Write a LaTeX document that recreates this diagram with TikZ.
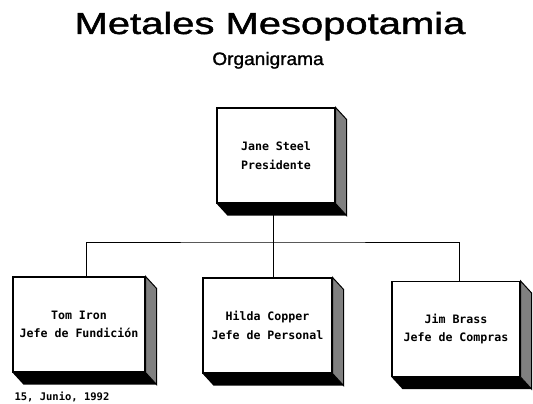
\documentclass[tikz,border=0pt]{standalone}
\usepackage{fontspec}
\setmainfont{Liberation Sans}
\newfontfamily\titulofont[FakeBold=1.2]{Liberation Sans}
\newfontfamily\cajafont{DejaVu Sans Mono}
\usetikzlibrary{positioning}

% relieve de una caja: fondo negro y costado derecho
\newcommand{\relieve}[1]{%
    \fill (#1.south west) -- (#1.south east) -- ([shift={(\dx,\dy)}]#1.south east) -- ([shift={(\dx,\dy)}]#1.south west) -- cycle;
    \draw[line width=1pt, fill=black!50] (#1.north east) -- ([shift={(\dx,\dy)}]#1.north east) -- ([shift={(\dx,\dy)}]#1.south east) -- (#1.south east) -- cycle;
}

\begin{document}
\begin{tikzpicture}[x=1pt, y=-1pt,
    caja/.style={draw, line width=1.1pt, fill=white, minimum height=95pt, inner sep=0pt, align=center,
                 font=\cajafont\bfseries\fontsize{11.6}{18.5}\selectfont},
    linea/.style={line width=0.9pt}]
    \def\dx{11}
    \def\dy{12}
    \useasboundingbox (0,0) rectangle (533,404);

    % titulo
    \node (titulo) [anchor=base, font=\titulofont\fontsize{30.5}{32}\selectfont] at (270,34) {\scalebox{1.31}[1]{Metales Mesopotamia}};
    \node (sub) [anchor=base, font=\titulofont\fontsize{18}{20}\selectfont] at (268,65) {\scalebox{1.06}[1]{Organigrama}};

    % cajas
    \node[caja, minimum width=118pt] (pres) at (276,155.5) {Jane Steel\\Presidente};
    \node[caja, minimum width=132pt] (fund) at (79,324.5) {Tom Iron\\Jefe de Fundición};
    \node[caja, minimum width=129pt] (pers) at (267.5,325.5) {Hilda Copper\\Jefe de Personal};
    \node[caja, minimum width=128pt] (compras) at (456,329) {Jim Brass\\Jefe de Compras};
    \relieve{pres}
    \relieve{fund}
    \relieve{pers}
    \relieve{compras}

    % lineas
    \coordinate (bus) at (273,242);
    \draw[linea] (pres.south -| bus) -- (bus);
    \draw[linea] ([xshift=7pt]fund.north) |- (bus) -| ([xshift=3pt]compras.north);
    \draw[linea] (bus) -- (pers.north -| bus);

    \node (fecha) [anchor=base west, font=\cajafont\bfseries\fontsize{10.5}{12}\selectfont] at (11,400) {15, Junio, 1992};
\end{tikzpicture}
\end{document}
